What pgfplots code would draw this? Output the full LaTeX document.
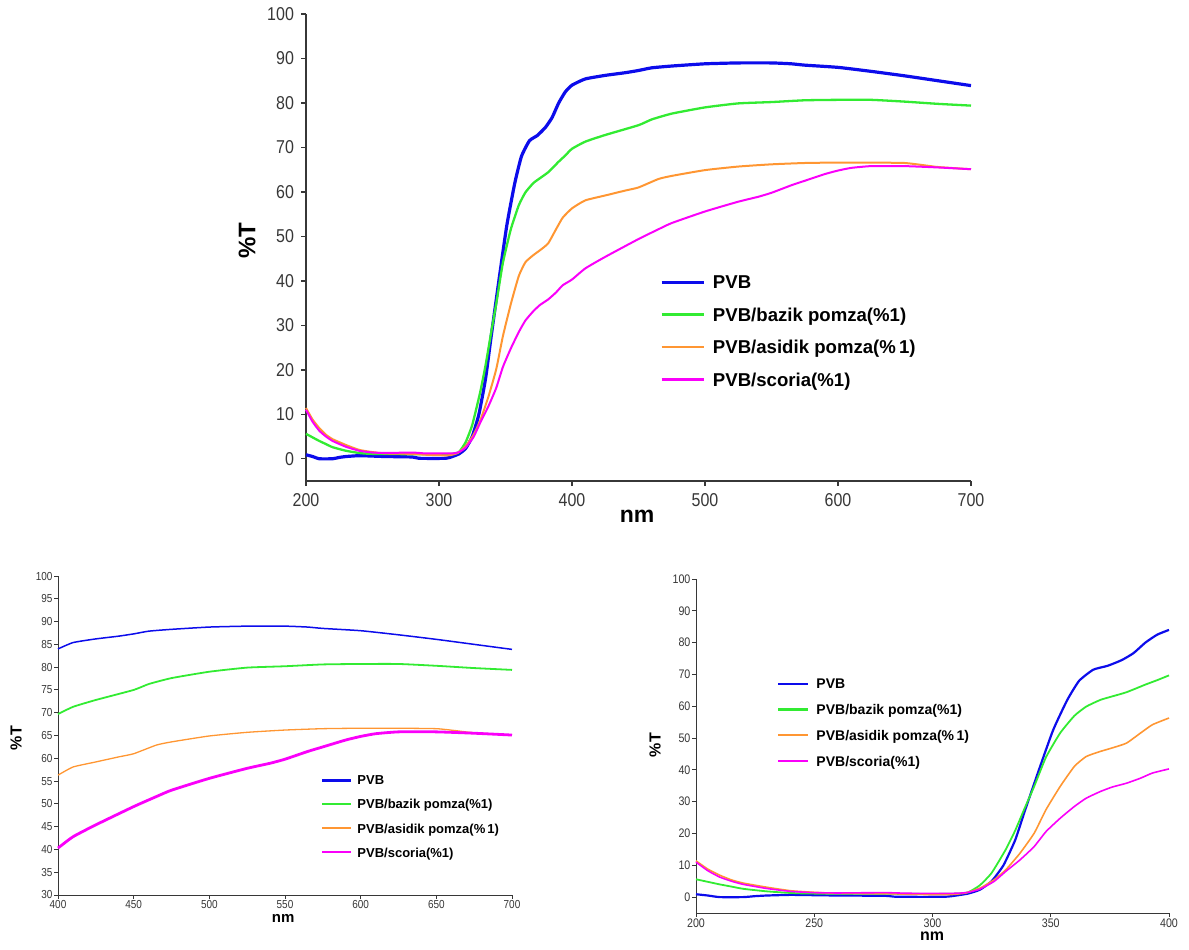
\documentclass[border=0pt]{standalone}
\usepackage{pgfplots}
\pgfplotsset{compat=1.18}
\usepackage{pgfplotstable}
\usepackage{fontspec}
\setmainfont{Liberation Sans}
\newfontfamily\tf[FakeStretch=0.86]{Liberation Sans}

\definecolor{cpvb}{RGB}{12,12,235}
\definecolor{cbaz}{RGB}{50,235,50}
\definecolor{casi}{RGB}{255,150,50}
\definecolor{csco}{RGB}{250,0,250}
\definecolor{tickgray}{RGB}{55,55,55}

% x = nm, y = %T
\pgfplotstableread{
x y
200 0.9
205 0.5
210 0.0
220 0.0
225 0.3
230 0.5
240 0.7
250 0.6
260 0.5
280 0.4
285 0.1
305 0.1
310 0.5
315 1.1
320 2.3
325 5.0
330 10.0
335 18.0
339 27.0
345 40.0
351 52.5
357 62.0
362 68.0
368 71.5
374 72.7
380 74.5
385 76.7
390 80.0
395 82.5
400 84.0
410 85.4
425 86.2
440 86.8
450 87.3
460 87.9
475 88.3
500 88.8
525 89.0
550 89.0
565 88.8
575 88.5
600 88.0
625 87.1
650 86.1
675 85.0
700 83.9
}\pvb

\pgfplotstableread{
x y
200 5.6
205 4.8
210 4.0
215 3.3
220 2.6
230 1.8
240 1.3
250 1.1
300 1.0
310 1.1
315 1.5
320 3.7
325 7.6
331 15.0
335 21.0
339 28.0
343 34.8
348 44.0
354 51.6
360 57.0
365 59.9
371 62.0
376 63.1
382 64.4
390 66.8
395 68.2
400 69.7
410 71.3
425 72.8
450 75.0
460 76.3
475 77.6
500 79.0
525 79.9
550 80.2
575 80.6
600 80.7
625 80.7
650 80.3
675 79.8
700 79.4
}\baz

\pgfplotstableread{
x y
200 11.4
205 8.8
210 6.9
215 5.4
220 4.4
230 3.1
240 2.0
250 1.5
260 1.2
280 1.1
290 0.9
300 0.8
308 0.8
314 1.3
320 2.8
326 5.4
331 8.6
337 13.8
343 20.1
348 27.5
354 34.8
360 41.1
365 44.2
371 45.8
376 46.9
382 48.4
388 51.6
393 54.2
400 56.3
410 58.1
425 59.2
440 60.3
450 61.0
465 62.9
475 63.6
500 64.9
525 65.7
550 66.2
575 66.5
600 66.6
625 66.6
650 66.5
662 66.1
675 65.6
700 65.1
}\asi

\pgfplotstableread{
x y
200 11.0
205 8.3
210 6.3
215 5.0
220 4.0
230 2.7
240 1.8
250 1.4
260 1.3
280 1.4
290 1.2
310 1.2
315 1.5
320 2.5
326 4.9
331 8.1
337 11.7
343 15.9
348 20.6
354 24.8
360 28.5
365 31.1
371 33.2
376 34.6
382 35.8
388 37.4
393 39.0
400 40.3
410 42.8
425 45.4
450 49.4
465 51.6
475 53.0
500 55.6
525 57.8
540 58.9
550 59.8
565 61.5
575 62.5
590 64.0
600 64.8
610 65.4
625 65.8
650 65.8
675 65.5
700 65.1
}\sco

\pgfplotsset{
  uvaxis/.style={
    scale only axis,
    axis x line*=bottom,
    axis y line*=left,
    tick align=outside,
    clip=false,
    /pgf/number format/assume math mode=true,
    /pgf/number format/1000 sep={},
    axis line style={tickgray, line width=0.8pt},
    every tick/.style={tickgray, line width=0.7pt},
    tick label style={text=tickgray},
    every axis plot/.append style={smooth, tension=0.3, line join=round},
    legend cell align=left,
    legend style={draw=none, fill=none, inner sep=0pt,
      nodes={inner sep=1pt, text depth=0pt}},
  },
}
% legend lines of one width for all four series
\newcommand\uvlegend[1]{%
  \addlegendimage{cpvb, line width=#1}
  \addlegendimage{cbaz, line width=#1}
  \addlegendimage{casi, line width=#1}
  \addlegendimage{csco, line width=#1}
  \legend{PVB, PVB/bazik pomza(\%1), PVB/asidik pomza(\%\,1), PVB/scoria(\%1)}}

\begin{document}
\begin{tikzpicture}
\path (0,0) rectangle (594.5pt,474.5pt);

% ---- top: full spectrum ----
\begin{axis}[uvaxis,
  at={(153pt,234pt)}, anchor=south west,
  width=332.5pt, height=233.5pt,
  xmin=200, xmax=700, ymin=-5, ymax=100,
  xtick={200,300,...,700}, ytick={0,10,...,100},
  major tick length=2.5pt,
  tick label style={font=\tf\fontsize{9.3}{9.5}\selectfont},
  xlabel={nm}, ylabel={\%T},
  xlabel style={at={(rel axis cs:0.498,-0.075)}, anchor=center, font=\bfseries\fontsize{11.5}{12}\selectfont},
  ylabel style={at={(rel axis cs:-0.0887,0.514)}, anchor=center, font=\bfseries\fontsize{12}{12}\selectfont},
  legend style={at={(rel axis cs:0.532,0.321)}, anchor=west,
    font=\bfseries\fontsize{9.3}{10}\selectfont, row sep=7.5pt,
    /tikz/column sep=3pt},
  legend image code/.code={\draw[#1] (0pt,0pt) -- (21pt,0pt);},
]
\addplot[cpvb, line width=1.6pt, forget plot] table {\pvb};
\addplot[cbaz, line width=1.15pt, forget plot] table {\baz};
\addplot[casi, line width=1.0pt, forget plot] table {\asi};
\addplot[csco, line width=1.0pt, forget plot] table {\sco};
\uvlegend{1.4pt}
\end{axis}

% ---- bottom left: 400-700 nm ----
\begin{axis}[uvaxis,
  at={(29pt,27pt)}, anchor=south west,
  width=227pt, height=159.5pt,
  xmin=400, xmax=700, ymin=30, ymax=100,
  xtick={400,450,...,700}, ytick={30,35,...,100},
  major tick length=1.8pt,
  axis line style={line width=0.5pt},
  every tick/.style={tickgray, line width=0.45pt},
  tick label style={font=\tf\fontsize{5.8}{6}\selectfont, inner sep=0.8pt},
  xlabel={nm}, ylabel={\%T},
  xlabel style={at={(rel axis cs:0.496,-0.075)}, anchor=center, font=\bfseries\fontsize{7.5}{8}\selectfont},
  ylabel style={at={(rel axis cs:-0.0925,0.492)}, anchor=center, font=\bfseries\fontsize{8}{8}\selectfont},
  legend style={at={(rel axis cs:0.579,0.246)}, anchor=west,
    font=\bfseries\fontsize{6.5}{7}\selectfont, row sep=5.3pt,
    /tikz/column sep=1.5pt},
  legend image code/.code={\draw[#1] (0pt,0pt) -- (14.5pt,0pt);},
]
\addplot[cpvb, line width=0.75pt, forget plot, restrict x to domain=400:700] table {\pvb};
\addplot[cbaz, line width=0.9pt, forget plot, restrict x to domain=400:700] table {\baz};
\addplot[casi, line width=0.65pt, forget plot, restrict x to domain=400:700] table {\asi};
\addplot[csco, line width=1.4pt, forget plot, restrict x to domain=400:700] table {\sco};
\uvlegend{1.1pt}
\end{axis}

% ---- bottom right: 200-400 nm ----
\begin{axis}[uvaxis,
  at={(348pt,18pt)}, anchor=south west,
  width=236.5pt, height=167pt,
  xmin=200, xmax=400, ymin=-5, ymax=100,
  xtick={200,250,...,400}, ytick={0,10,...,100},
  major tick length=1.8pt,
  axis line style={line width=0.5pt},
  every tick/.style={tickgray, line width=0.45pt},
  tick label style={font=\tf\fontsize{6.2}{6.5}\selectfont, inner sep=0.8pt},
  xlabel={nm}, ylabel={\%T},
  xlabel style={at={(rel axis cs:0.499,-0.069)}, anchor=center, font=\bfseries\fontsize{8}{8}\selectfont},
  ylabel style={at={(rel axis cs:-0.0867,0.503)}, anchor=center, font=\bfseries\fontsize{8}{8}\selectfont},
  legend style={at={(rel axis cs:0.171,0.570)}, anchor=west,
    font=\bfseries\fontsize{7}{7.5}\selectfont, row sep=5.8pt,
    /tikz/column sep=2.5pt},
  legend image code/.code={\draw[#1] (0pt,0pt) -- (15pt,0pt);},
]
\addplot[cpvb, line width=1.1pt, forget plot, restrict x to domain=200:400] table {\pvb};
\addplot[cbaz, line width=0.9pt, forget plot, restrict x to domain=200:400] table {\baz};
\addplot[casi, line width=0.8pt, forget plot, restrict x to domain=200:400] table {\asi};
\addplot[csco, line width=0.8pt, forget plot, restrict x to domain=200:400] table {\sco};
\uvlegend{1.1pt}
\end{axis}
\end{tikzpicture}
\end{document}
